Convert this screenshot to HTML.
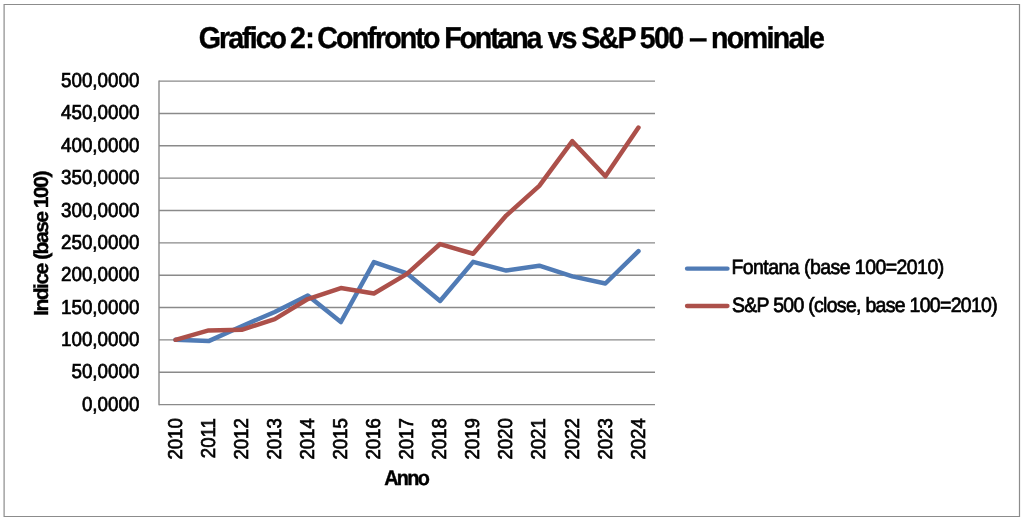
<!DOCTYPE html>
<html><head><meta charset="utf-8"><style>
html,body{margin:0;padding:0;background:#fff;}
body{width:1024px;height:522px;overflow:hidden;position:relative;}
svg{position:absolute;left:0;top:0;will-change:transform;}
text{text-rendering:geometricPrecision;font-family:"Liberation Sans",Arial,sans-serif;fill:#000;stroke:#000;stroke-width:0.7px;}
.t,.ax{stroke-width:0.4px;}
.t{font-weight:bold;font-size:30.1px;letter-spacing:-2.0px;}
.ax{font-weight:bold;font-size:21.1px;letter-spacing:-1.25px;}
.tk{font-size:20.2px;letter-spacing:0.0px;}
.yr{font-size:20.0px;letter-spacing:0px;}
.lg{font-size:20.7px;letter-spacing:-0.56px;}
</style></head><body>
<svg width="1024" height="522" viewBox="0 0 1024 522">
<g stroke="#8c8c8c" fill="none"><path d="M4.1 4.5H1019.5V516.5H4.1Z" stroke-width="1.2"/></g>
<text class="t" style="letter-spacing:-2.056px" transform="translate(198.70,47.5) scale(0.9500,1)">Grafico</text>
<text class="t" style="letter-spacing:-0.630px" transform="translate(290.05,47.5) scale(0.9500,1)">2:</text>
<text class="t" style="letter-spacing:-1.954px" transform="translate(317.28,47.5) scale(0.9500,1)">Confronto</text>
<text class="t" style="letter-spacing:-2.320px" transform="translate(444.35,47.5) scale(0.9500,1)">Fontana</text>
<text class="t" style="letter-spacing:-2.207px" transform="translate(547.79,47.5) scale(0.9500,1)">vs</text>
<text class="t" style="letter-spacing:-1.871px" transform="translate(581.33,47.5) scale(0.9500,1)">S&amp;P</text>
<text class="t" style="letter-spacing:-1.738px" transform="translate(639.82,47.5) scale(0.9500,1)">500</text>
<text class="t" style="letter-spacing:-2.000px" transform="translate(689.10,47.5) scale(1.0989,1)">–</text>
<text class="t" style="letter-spacing:-1.729px" transform="translate(710.99,47.5) scale(0.9500,1)">nominale</text>
<g stroke="#8a8a8a" stroke-width="1.4" fill="none">
<line x1="159" y1="404.60" x2="655" y2="404.60"/>
<line x1="159" y1="372.25" x2="655" y2="372.25"/>
<line x1="159" y1="339.90" x2="655" y2="339.90"/>
<line x1="159" y1="307.55" x2="655" y2="307.55"/>
<line x1="159" y1="275.20" x2="655" y2="275.20"/>
<line x1="159" y1="242.85" x2="655" y2="242.85"/>
<line x1="159" y1="210.50" x2="655" y2="210.50"/>
<line x1="159" y1="178.15" x2="655" y2="178.15"/>
<line x1="159" y1="145.80" x2="655" y2="145.80"/>
<line x1="159" y1="113.45" x2="655" y2="113.45"/>
<line x1="159" y1="81.10" x2="655" y2="81.10"/>
<line x1="159.0" y1="80.40" x2="159.0" y2="405.30"/>
</g>
<g class="tk">
<text transform="translate(139.5,410.60) scale(0.933,1)" text-anchor="end">0,0000</text>
<text transform="translate(139.5,378.25) scale(0.933,1)" text-anchor="end">50,0000</text>
<text transform="translate(139.5,345.90) scale(0.933,1)" text-anchor="end">100,0000</text>
<text transform="translate(139.5,313.55) scale(0.933,1)" text-anchor="end">150,0000</text>
<text transform="translate(139.5,281.20) scale(0.933,1)" text-anchor="end">200,0000</text>
<text transform="translate(139.5,248.85) scale(0.933,1)" text-anchor="end">250,0000</text>
<text transform="translate(139.5,216.50) scale(0.933,1)" text-anchor="end">300,0000</text>
<text transform="translate(139.5,184.15) scale(0.933,1)" text-anchor="end">350,0000</text>
<text transform="translate(139.5,151.80) scale(0.933,1)" text-anchor="end">400,0000</text>
<text transform="translate(139.5,119.45) scale(0.933,1)" text-anchor="end">450,0000</text>
<text transform="translate(139.5,87.10) scale(0.933,1)" text-anchor="end">500,0000</text>
</g>
<g class="yr">
<text transform="translate(181.73,418.2) rotate(-90) scale(0.93,1)" text-anchor="end">2010</text>
<text transform="translate(214.80,418.2) rotate(-90) scale(0.93,1)" text-anchor="end">2011</text>
<text transform="translate(247.87,418.2) rotate(-90) scale(0.93,1)" text-anchor="end">2012</text>
<text transform="translate(280.93,418.2) rotate(-90) scale(0.93,1)" text-anchor="end">2013</text>
<text transform="translate(314.00,418.2) rotate(-90) scale(0.93,1)" text-anchor="end">2014</text>
<text transform="translate(347.07,418.2) rotate(-90) scale(0.93,1)" text-anchor="end">2015</text>
<text transform="translate(380.13,418.2) rotate(-90) scale(0.93,1)" text-anchor="end">2016</text>
<text transform="translate(413.20,418.2) rotate(-90) scale(0.93,1)" text-anchor="end">2017</text>
<text transform="translate(446.27,418.2) rotate(-90) scale(0.93,1)" text-anchor="end">2018</text>
<text transform="translate(479.33,418.2) rotate(-90) scale(0.93,1)" text-anchor="end">2019</text>
<text transform="translate(512.40,418.2) rotate(-90) scale(0.93,1)" text-anchor="end">2020</text>
<text transform="translate(545.47,418.2) rotate(-90) scale(0.93,1)" text-anchor="end">2021</text>
<text transform="translate(578.53,418.2) rotate(-90) scale(0.93,1)" text-anchor="end">2022</text>
<text transform="translate(611.60,418.2) rotate(-90) scale(0.93,1)" text-anchor="end">2023</text>
<text transform="translate(644.67,418.2) rotate(-90) scale(0.93,1)" text-anchor="end">2024</text>
</g>
<text class="ax" style="letter-spacing:-1.54px" transform="translate(48.1,315.9) scale(0.96,1) rotate(-90)">Indice (base 100)</text>
<text class="ax" style="letter-spacing:-1.79px" transform="translate(384.15,484.9) scale(0.94,1)">Anno</text>
<g fill="none" stroke-width="4.5" stroke-linejoin="round" stroke-linecap="round">
<polyline stroke="#507bb5" points="175.53,339.80 208.60,341.09 241.67,326.21 274.73,311.98 307.80,295.48 340.87,322.01 373.93,262.16 407.00,273.48 440.07,300.98 473.13,261.84 506.20,270.57 539.27,265.72 572.33,276.39 605.40,283.51 638.47,251.16"/>
<polyline stroke="#ac504a" points="175.53,339.80 208.60,330.42 241.67,329.77 274.73,319.10 307.80,299.04 340.87,288.04 373.93,293.54 407.00,273.81 440.07,244.04 473.13,253.75 506.20,215.58 539.27,185.81 572.33,141.17 605.40,176.24 638.47,127.58"/>
<line stroke="#507bb5" stroke-width="4.3" x1="687" y1="268.7" x2="727.5" y2="268.7"/>
<line stroke="#ac504a" stroke-width="4.3" x1="687" y1="306" x2="727.5" y2="306"/>
</g>
<g class="lg">
<text transform="translate(731.4,274.1) scale(0.94,1)">Fontana (base 100=2010)</text>
<text style="letter-spacing:-0.73px" transform="translate(731.93,312.2) scale(0.94,1)">S&amp;P 500 (close, base 100=2010)</text>
</g>
</svg>
</body></html>
